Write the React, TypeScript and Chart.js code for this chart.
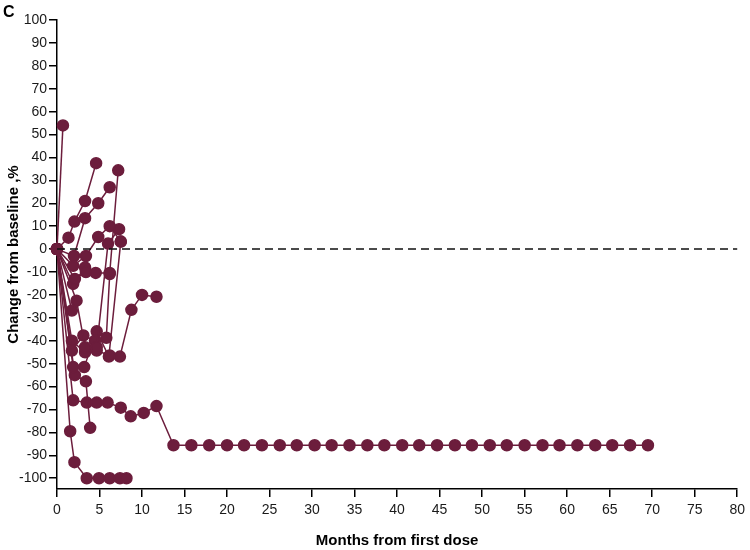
import React, { useEffect, useRef } from "react";
import { Chart, registerables } from "chart.js";

Chart.register(...registerables);

// Each patient: [months from first dose, % change from baseline]
const p01 = [[0, 0], [0.7, 54]];
const p02 = [[0, 0], [1.35, 5], [2.05, 12], [3.3, 21], [4.6, 37.5]];
const p03 = [[0, 0], [2.0, -3], [3.3, 13.5], [4.85, 20], [6.2, 27]];
const p04 = [[0, 0], [1.9, -7.3], [3.4, -3], [4.85, 5.3], [6.2, 10], [7.5, 3.3]];
const p05 = [[0, 0], [2.1, -13], [3.4, -10], [4.55, -10.4], [6.2, -10.4], [7.2, 34.4]];
const p06 = [[0, 0], [2.3, -22.5], [3.3, -42.8], [4.67, -42.8], [6.0, 2.4], [7.3, 8.7]];
const p07 = [[0, 0], [1.75, -44.3], [3.1, -37.7], [4.46, -40], [5.8, -38.7], [6.2, -10.9]];
const p08 = [[0, 0], [1.75, -40], [3.3, -45], [4.67, -44.3], [6.2, -46.4], [7.4, -46.9], [8.75, -26.5], [10.0, -20], [11.7, -20.8]];
const p09 = [[0, 0], [1.9, -51.5], [3.2, -51.5], [4.67, -35.9], [6.1, -46.9], [7.5, 3.3]];
const p10 = [[0, 0], [2.1, -55], [3.4, -57.7], [3.9, -78]];
const p11Months = [0, 1.9, 3.5, 4.67, 5.95, 7.5, 8.67, 10.2, 11.7, 13.7, 15.8, 17.9, 20.0, 22.0, 24.1, 26.2, 28.2, 30.3, 32.3, 34.4, 36.5, 38.5, 40.6, 42.6, 44.7, 46.8, 48.8, 50.9, 52.9, 55.0, 57.1, 59.1, 61.2, 63.3, 65.3, 67.4, 69.5];
const p11Change = [0, -66, -67, -67, -67, -69.2, -73, -71.5, -68.5, -85.6, -85.6, -85.6, -85.6, -85.6, -85.6, -85.6, -85.6, -85.6, -85.6, -85.6, -85.6, -85.6, -85.6, -85.6, -85.6, -85.6, -85.6, -85.6, -85.6, -85.6, -85.6, -85.6, -85.6, -85.6, -85.6, -85.6, -85.6];
const p12 = [[0, 0], [1.55, -79.5], [2.05, -93], [3.5, -100], [4.94, -100], [6.2, -100], [7.4, -100], [8.17, -100]];
const p13 = [[0, 0], [1.9, -15.2], [3.3, -8]];
const p14 = [[0, 0], [1.75, -26.8]];

const xTicks = [0, 5, 10, 15, 20, 25, 30, 35, 40, 45, 50, 55, 60, 65, 70, 75, 80];
const yTicks = [-100, -90, -80, -70, -60, -50, -40, -30, -20, -10, 0, 10, 20, 30, 40, 50, 60, 70, 80, 90, 100];

const COLOR = "#6c1d3c";
const FONT = "'Liberation Sans', Arial, sans-serif";

const p11 = p11Months.map((m, i) => [m, p11Change[i]]);
const patients = [p01, p02, p03, p04, p05, p06, p07, p08, p09, p10, p11, p12, p13, p14];

const panelLabel = {
  id: "panelLabel",
  afterDraw(chart: any) {
    const ctx = chart.ctx;
    ctx.save();
    ctx.font = `bold 16px ${FONT}`;
    ctx.fillStyle = "#000";
    ctx.textBaseline = "top";
    ctx.fillText("C", 3, 5);
    ctx.restore();
  },
};

export default function App() {
  const ref = useRef<HTMLCanvasElement | null>(null);
  useEffect(() => {
    if (!ref.current) return;
    const datasets: any[] = patients.map((pts) => ({
      data: pts.map(([x, y]) => ({ x, y })),
      showLine: true,
      borderColor: COLOR,
      backgroundColor: COLOR,
      pointBackgroundColor: COLOR,
      pointBorderColor: COLOR,
      pointRadius: 5.5,
      borderWidth: 1.5,
      clip: false,
    }));
    datasets.unshift({
      data: [{ x: 0, y: 0 }, { x: 80, y: 0 }],
      showLine: true,
      borderColor: "#111",
      borderWidth: 1.5,
      borderDash: [8, 5],
      pointRadius: 0,
      clip: false,
    });
    const chart = new Chart(ref.current, {
      type: "scatter",
      data: { datasets },
      options: {
        animation: false,
        responsive: false,
        layout: { padding: { top: 20, right: 8, left: 0, bottom: 0 } },
        plugins: { legend: { display: false }, tooltip: { enabled: false } },
        scales: {
          x: {
            type: "linear",
            min: 0,
            max: 80,
            afterBuildTicks: (s: any) => { s.ticks = xTicks.map((v) => ({ value: v })); },
            afterFit: (s: any) => { s.height = 61; },
            grid: { drawOnChartArea: false, drawTicks: true, tickLength: 8, color: "#000", lineWidth: 1.5 },
            border: { display: true, color: "#000", width: 1.5 },
            ticks: { color: "#1a1a1a", font: { family: FONT, size: 14 }, padding: 5, maxRotation: 0 },
            title: { display: true, text: "Months from first dose", color: "#000", font: { family: FONT, size: 15, weight: "bold" }, padding: { top: 14, bottom: 0 } },
          },
          y: {
            type: "linear",
            min: -104.7,
            max: 100,
            afterBuildTicks: (s: any) => { s.ticks = yTicks.map((v) => ({ value: v })); },
            afterFit: (s: any) => { s.width = 57; },
            grid: { drawOnChartArea: false, drawTicks: true, tickLength: 8, color: "#000", lineWidth: 1.5 },
            border: { display: true, color: "#000", width: 1.5 },
            ticks: { color: "#1a1a1a", font: { family: FONT, size: 14 }, padding: 2 },
            title: { display: true, text: "Change from baseline ,%", color: "#000", font: { family: FONT, size: 15, weight: "bold" }, padding: { top: 5, bottom: 2 } },
          },
        },
      },
      plugins: [panelLabel],
    } as any);
    return () => chart.destroy();
  }, []);
  return (
    <div style={{ position: "fixed", left: 0, top: 0, width: 750, height: 550, background: "#fff" }}>
      <canvas ref={ref} width={750} height={550} style={{ width: 750, height: 550 }} />
    </div>
  );
}
